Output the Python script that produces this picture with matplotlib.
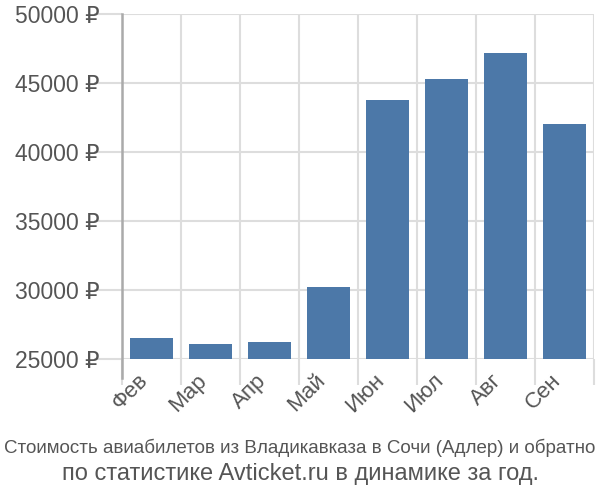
import matplotlib.pyplot as plt
from matplotlib import font_manager
from matplotlib.transforms import ScaledTranslation
import numpy as np

months = ['Фев', 'Мар', 'Апр', 'Май', 'Июн', 'Июл', 'Авг', 'Сен']
prices = [26500, 26100, 26200, 30200, 43800, 45300, 47200, 42000]
yticks = [25000, 30000, 35000, 40000, 45000, 50000]

plt.rcParams['font.family'] = ['Liberation Sans', 'DejaVu Sans']

fig = plt.figure(figsize=(6, 5), dpi=100)
ax = fig.add_axes([0.203, 0.282, 0.787, 0.69])

x = np.arange(len(months))
ax.bar(x, prices, width=0.72, color='#4c78a8', zorder=3)

ax.set_xlim(-0.5, len(months) - 0.5)
ax.set_ylim(25000, 50000)

ax.set_yticks(yticks)
ax.set_yticklabels(['%d ₽' % v for v in yticks], fontsize=16.5, color='#555555')
ax.tick_params(axis='y', length=20, color='#dddddd', width=1.5, pad=-4)

ax.set_xticks(x)
ax.set_xticklabels(months, fontsize=16, color='#555555', rotation=45,
                   ha='right', rotation_mode='anchor')
ax.tick_params(axis='x', which='major', length=0, pad=8)
shift = ScaledTranslation(-14 / 100, 0, fig.dpi_scale_trans)
for lbl in ax.get_xticklabels():
    lbl.set_transform(lbl.get_transform() + shift)
ax.set_xticks(np.arange(len(months) + 1) - 0.5, minor=True)
ax.tick_params(axis='x', which='minor', length=19, color='#dddddd', width=1.5)

ax.grid(True, axis='y', color='#dddddd', linewidth=1.5, zorder=0)
ax.grid(True, axis='x', which='minor', color='#dddddd', linewidth=1.5, zorder=0)

for s in ['top', 'right', 'bottom', 'left']:
    ax.spines[s].set_visible(False)
ax.axvline(-0.5, ymin=-0.055, ymax=1, color='#aaaaaa', linewidth=1.8,
           clip_on=False, zorder=4)

try:
    font_manager.findfont('Liberation Sans Narrow', fallback_to_default=False)
    t1_family, t1_size = ['Liberation Sans Narrow', 'DejaVu Sans'], 17
except Exception:
    t1_family, t1_size = ['Liberation Sans', 'DejaVu Sans'], 13.5

fig.text(0.5, 0.105, 'Стоимость авиабилетов из Владикавказа в Сочи (Адлер) и обратно',
         ha='center', va='center', fontsize=t1_size, color='#555555',
         family=t1_family)
fig.text(0.5, 0.052, 'по статистике Avticket.ru в динамике за год.',
         ha='center', va='center', fontsize=17, color='#555555')

fig.savefig('out.png', dpi=100)
